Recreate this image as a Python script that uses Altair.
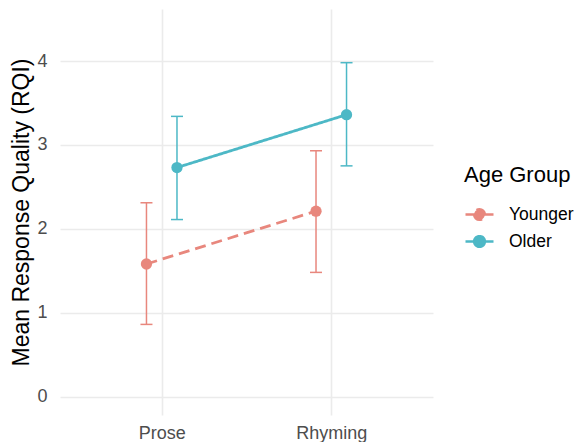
import altair as alt
import pandas as pd

conditions = ["Prose", "Rhyming"]
groups = ["Younger", "Older"]
mean_younger = [1.58, 2.21]
lower_younger = [0.86, 1.48]
upper_younger = [2.31, 2.93]
mean_older = [2.73, 3.36]
lower_older = [2.11, 2.75]
upper_older = [3.34, 3.98]

colors = ["#E8877D", "#4DB8C6"]
dodge = {"Younger": -0.09, "Older": 0.09}

rows = []
for g, m, lo, hi in [("Younger", mean_younger, lower_younger, upper_younger),
                     ("Older", mean_older, lower_older, upper_older)]:
    for i, c in enumerate(conditions):
        rows.append({"condition": c, "group": g, "xpos": i + 1 + dodge[g],
                     "mean": m[i], "lower": lo[i], "upper": hi[i]})
df = pd.DataFrame(rows)

FONT = "Liberation Sans"
sym_path = ("M-1,0L1,0M-0.38,0A0.38,0.38 0 1,0 0.38,0A0.38,0.38 0 1,0 -0.38,0Z")

scale_c = alt.Scale(domain=groups, range=colors)


def make_legend():
    return alt.Legend(
        title="Age Group", orient="none", legendX=404, legendY=156,
        titleFontSize=22, titleFont=FONT, titleColor="black", titleFontWeight="normal",
        titlePadding=12, titleLimit=300, labelLimit=300,
        labelFontSize=17.5, labelFont=FONT, labelColor="black", labelOffset=14,
        symbolType=sym_path, symbolSize=784, symbolStrokeWidth=2.6,
        symbolOpacity=1, rowPadding=-1,
    )


x_enc = alt.X("xpos:Q", scale=alt.Scale(domain=[0.4, 2.6], nice=False, zero=False),
              axis=alt.Axis(values=[1, 2], title=None,
                            labelExpr="datum.value == 1 ? 'Prose' : 'Rhyming'",
                            labelFontSize=18, labelFont=FONT, labelColor="#4D4D4D",
                            labelPadding=9, grid=True, gridColor="#EBEBEB", gridWidth=1.6,
                            domain=False, ticks=False))
y_scale = alt.Scale(domain=[-0.22, 4.62], nice=False, zero=False)
y_axis = alt.Axis(values=[0, 1, 2, 3, 4], format="d", title="Mean Response Quality (RQI)",
                  titleFontSize=23, titleFont=FONT, titleColor="black", titleFontWeight="normal",
                  titlePadding=3,
                  labelFontSize=18, labelFont=FONT, labelColor="#4D4D4D", labelPadding=13,
                  grid=True, gridColor="#EBEBEB", gridWidth=1.6, domain=False, ticks=False)

base = alt.Chart(df)

line = base.mark_line(strokeWidth=2.8).encode(
    x=x_enc, y=alt.Y("mean:Q", scale=y_scale, axis=y_axis),
    stroke=alt.Stroke("group:N", scale=scale_c, legend=make_legend()),
    strokeDash=alt.StrokeDash("group:N", scale=alt.Scale(domain=groups, range=[[11, 6], [1, 0]]),
                              legend=make_legend()),
    detail="group:N",
)
rule = base.mark_rule(strokeWidth=1.5).encode(
    x="xpos:Q", y="lower:Q", y2="upper:Q",
    stroke=alt.Stroke("group:N", scale=scale_c, legend=make_legend()))
cap_lo = base.mark_tick(orient="horizontal", size=12, thickness=1.5, opacity=1).encode(
    x="xpos:Q", y="lower:Q", color=alt.Color("group:N", scale=scale_c, legend=None))
cap_hi = base.mark_tick(orient="horizontal", size=12, thickness=1.5, opacity=1).encode(
    x="xpos:Q", y="upper:Q", color=alt.Color("group:N", scale=scale_c, legend=None))
pts = base.mark_circle(size=127, opacity=1).encode(
    x="xpos:Q", y="mean:Q",
    fill=alt.Fill("group:N", scale=scale_c, legend=make_legend()))

chart = alt.layer(rule, cap_lo, cap_hi, line, pts).properties(
    width=373, height=406,
    autosize=alt.AutoSizeParams(type="none"),
    padding={"left": 52, "top": 1, "right": 141, "bottom": 27},
    background="white",
).configure_view(stroke=None)

chart.save("out.html", embed_options={"renderer": "svg", "actions": False})
